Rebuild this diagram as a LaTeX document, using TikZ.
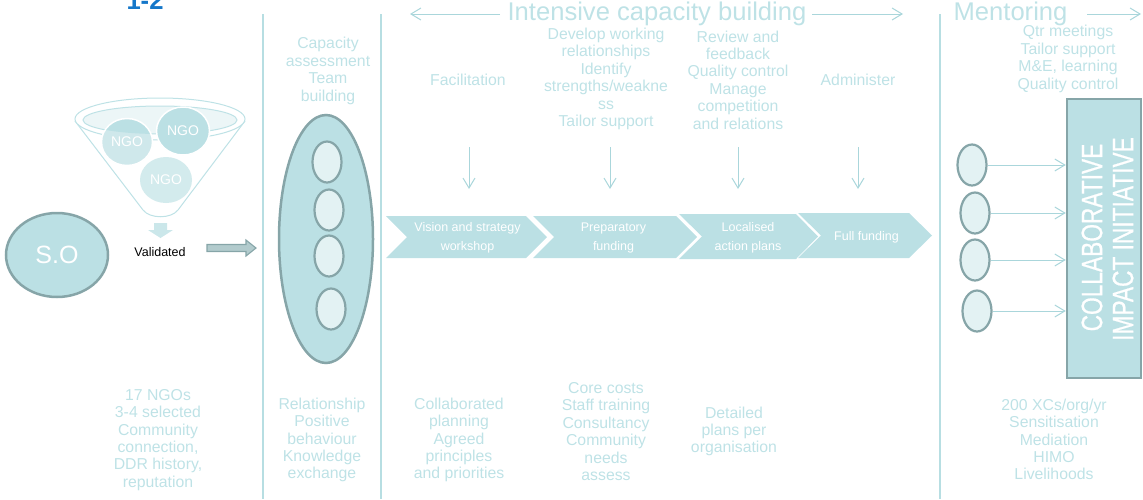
\documentclass[tikz,border=0pt]{standalone}
\usepackage{fontspec}
\usepackage{graphicx}
\setmainfont{Liberation Sans}
\newfontfamily\boxfont[FakeBold=0.8]{Liberation Sans}
\usetikzlibrary{arrows.meta,shapes.geometric}
\definecolor{txt}{RGB}{190,226,230}
\definecolor{tealfill}{RGB}{187,224,228}
\definecolor{edge}{RGB}{134,165,168}
\definecolor{pale}{RGB}{227,242,243}
\definecolor{divline}{RGB}{183,222,226}
\definecolor{arr}{RGB}{170,214,219}
\definecolor{blueone}{RGB}{21,119,201}
\definecolor{ngolight}{RGB}{207,232,235}
\definecolor{ngothree}{RGB}{211,235,237}
\definecolor{funnelin}{RGB}{236,246,247}
\definecolor{blockarr}{RGB}{203,231,234}
\definecolor{grayarr}{RGB}{178,203,205}
\begin{document}
\begin{tikzpicture}[x=1pt,y=-1pt,
  lbl/.style={text=txt, align=center, font=\fontsize{15.8}{17.4}\selectfont, inner sep=0pt},
  hdr/.style={text=txt, font=\fontsize{25.6}{28}\selectfont, inner sep=0pt, anchor=base},
  divider/.style={draw=divline, line width=1.5pt},
  thinarrow/.style={draw=arr, line width=1pt, -{Straight Barb[length=10pt,width=12pt]}},
  orb/.style={ellipse, draw=edge, line width=2.2pt, fill=pale, minimum width=29pt, minimum height=41pt, inner sep=0pt},
  bigorb/.style={ellipse, draw=edge, line width=2.5pt, fill=tealfill, inner sep=0pt},
  ngo/.style={ellipse, inner sep=0pt, text=white, font=\fontsize{14}{16}\selectfont},
  chev/.style={fill=tealfill},
  chevtxt/.style={text=white, align=center, font=\fontsize{12.5}{19}\selectfont, inner sep=0pt},
  boxtxt/.style={text=white, font=\boxfont\fontsize{29.5}{32}\selectfont, inner sep=0pt, rotate=90},
]
\useasboundingbox (0,0) rectangle (1143,499);

% "1-2" (cut at top, as in the reference)
\node[anchor=base, text=blueone, font=\bfseries\fontsize{25.6}{28}\selectfont, inner sep=0pt] (onetwo) at (145,9) {1-2};

% dividers
\draw[divider] (263,14) -- (263,499);
\draw[divider] (381,14) -- (381,499);
\draw[divider] (940,14) -- (940,499);

% headers
\node[hdr] (icb) at (657,20) {Intensive capacity building};
\node[hdr] (mentor) at (1010.5,20) {Mentoring};
\coordinate (hlA) at (500,14); \coordinate (hlB) at (410,14);
\coordinate (hrA) at (812,14); \coordinate (hrB) at (903,14);
\coordinate (hmA) at (1087,14); \coordinate (hmB) at (1141,14);
\draw[thinarrow] (hlA) -- (hlB);
\draw[thinarrow] (hrA) -- (hrB);
\draw[thinarrow] (hmA) -- (hmB);

% funnel
\draw[draw=txt, fill=white, line width=1pt] (75,121) -- (143,210) .. controls (150,219) and (171,219) .. (178,210) -- (245,121);
\draw[draw=txt, fill=white, line width=1pt] (160,119) ellipse [x radius=85, y radius=21];
\draw[draw=txt, fill=funnelin, line width=1pt] (160,120) ellipse [x radius=77, y radius=14];
% NGO circles
\fill[ngolight] (127,142) ellipse [x radius=25.5, y radius=23.5];
\begin{scope}
  \clip (160,120) ellipse [x radius=77, y radius=14];
  \fill[tealfill] (127,142) ellipse [x radius=25.5, y radius=23.5];
\end{scope}
\node[ngo, draw=white, line width=1.5pt, minimum width=51pt, minimum height=47pt] (ngo1) at (127,142) {NGO};
\node[ngo, draw=white, fill=tealfill, line width=1.5pt, minimum width=53pt, minimum height=48pt] (ngo2) at (183,131) {NGO};
\node[ngo, fill=ngothree, minimum width=52pt, minimum height=46pt] (ngo3) at (166,180) {NGO};
% down block arrow
\fill[blockarr] (154,223) -- (167,223) -- (167,230) -- (173,230) -- (160.5,238) -- (148,230) -- (154,230) -- cycle;
\node[inner sep=0pt, font=\fontsize{12.5}{14}\selectfont] (valid) at (160,252) {Validated};
% right block arrow
\draw[fill=grayarr, draw=edge, line width=1.1pt] (207,244.5) -- (246,244.5) -- (246,240) -- (256,248) -- (246,256) -- (246,251.5) -- (207,251.5) -- cycle;

% S.O
\node[bigorb, minimum width=102pt, minimum height=84pt, text=white, font=\fontsize{25}{28}\selectfont] (so) at (57,255) {S.O};

% column 2
\node[lbl] (cap) at (328,71) {Capacity\\assessment\\Team\\building};
\node[bigorb, minimum width=94pt, minimum height=248pt] (team) at (326,239) {};
\node[orb] (t1) at (327,162) {};
\node[orb] (t2) at (329,210) {};
\node[orb] (t3) at (329,256) {};
\node[orb] (t4) at (331,309) {};

% column 3 texts
\node[lbl] (fac) at (468,80) {Facilitation};
\node[lbl] (dev) at (606,79) {Develop working\\relationships\\Identify\\strengths/weakne\\ss\\Tailor support};
\node[lbl] (rev) at (738,80) {Review and\\feedback\\Quality control\\Manage\\competition\\and relations};
\node[lbl] (adm) at (858,80) {Administer};

% down arrows
\coordinate (d1a) at (469,147); \coordinate (d1b) at (469,189);
\coordinate (d2a) at (610,147); \coordinate (d2b) at (610,189);
\coordinate (d3a) at (738,147); \coordinate (d3b) at (738,189);
\coordinate (d4a) at (858,147); \coordinate (d4b) at (858,189);
\draw[thinarrow] (d1a) -- (d1b);
\draw[thinarrow] (d2a) -- (d2b);
\draw[thinarrow] (d3a) -- (d3b);
\draw[thinarrow] (d4a) -- (d4b);

% chevrons
\fill[chev] (386,216) -- (526,216) -- (547,237) -- (526,258) -- (386,258) -- (407,237) -- cycle;
\fill[chev] (533,216) -- (676,216) -- (697,237) -- (676,258) -- (533,258) -- (554,237) -- cycle;
\fill[chev] (679,214) -- (796,214) -- (818,236.5) -- (796,259) -- (679,259) -- (702,236.5) -- cycle;
\fill[chev] (798,213) -- (909,213) -- (932,235.5) -- (909,258) -- (798,258) -- (821,235.5) -- cycle;
\node[chevtxt] (c1) at (467.5,237.5) {Vision and strategy\\workshop};
\node[chevtxt] (c2) at (613.5,237.5) {Preparatory\\funding};
\node[chevtxt] (c3) at (748,237.5) {Localised\\action plans};
\node[chevtxt] (c4) at (866.5,237) {Full funding};

% mentoring
\node[lbl] (mtxt) at (1068,59) {Qtr meetings\\Tailor support\\M\&E, learning\\Quality control};
\node[rectangle, draw=edge, fill=tealfill, line width=2.5pt, minimum width=74pt, minimum height=279pt, inner sep=0pt] (box) at (1104,238.5) {};
\node[boxtxt] (coll) at (1092,237.5) {\scalebox{0.77}[1]{COLLABORATIVE}};
\node[boxtxt] (impact) at (1123,239) {\scalebox{0.77}[1]{IMPACT INITIATIVE}};
\node[orb] (m1) at (972,165) {};
\node[orb] (m2) at (975,213) {};
\node[orb] (m3) at (975,260) {};
\node[orb] (m4) at (977,311) {};
\draw[thinarrow] (m1.east) -- (m1.east -| box.west);
\draw[thinarrow] (m2.east) -- (m2.east -| box.west);
\draw[thinarrow] (m3.east) -- (m3.east -| box.west);
\draw[thinarrow] (m4.east) -- (m4.east -| box.west);

% bottom texts
\node[lbl] (b1) at (158,440) {17 NGOs\\3-4 selected\\Community\\connection,\\DDR history,\\reputation};
\node[lbl] (b2) at (322,440) {Relationship\\Positive\\behaviour\\Knowledge\\exchange};
\node[lbl] (b3) at (459,440) {Collaborated\\planning\\Agreed\\principles\\and priorities};
\node[lbl] (b4) at (606,431.5) {Core costs\\Staff training\\Consultancy\\Community\\needs\\assess};
\node[lbl] (b5) at (734,431.5) {Detailed\\plans per\\organisation};
\node[lbl] (b6) at (1054,439.5) {200 XCs/org/yr\\Sensitisation\\Mediation\\HIMO\\Livelihoods};
\end{tikzpicture}
\end{document}
